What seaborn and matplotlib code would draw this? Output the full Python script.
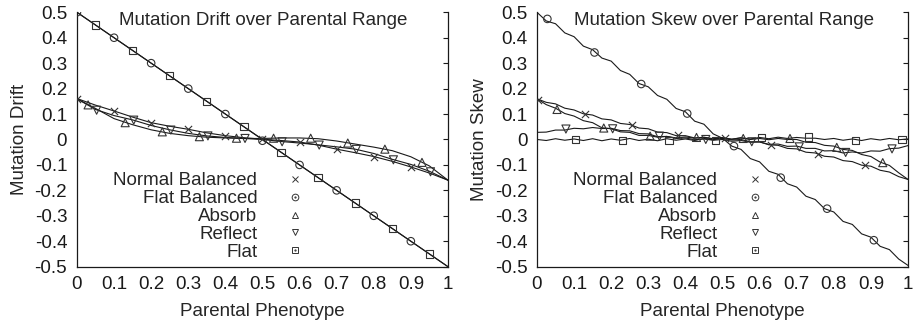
import numpy as np
import matplotlib
matplotlib.use("Agg")
import matplotlib.pyplot as plt
import seaborn as sns
from matplotlib.lines import Line2D
from matplotlib.legend_handler import HandlerTuple

sns.set_style("white")
plt.rcParams['font.family'] = ['Liberation Sans', 'DejaVu Sans']
plt.rcParams['axes.unicode_minus'] = False

# ---- data -------------------------------------------------------------
series_names = ["Normal Balanced", "Flat Balanced", "Absorb", "Reflect", "Flat"]

xticks = [0, 0.1, 0.2, 0.3, 0.4, 0.5, 0.6, 0.7, 0.8, 0.9, 1.0]
xtick_labels = ["0", "0.1", "0.2", "0.3", "0.4", "0.5", "0.6", "0.7", "0.8", "0.9", "1"]
yticks = [-0.5, -0.4, -0.3, -0.2, -0.1, 0, 0.1, 0.2, 0.3, 0.4, 0.5]
ytick_labels = ["-0.5", "-0.4", "-0.3", "-0.2", "-0.1", "0", "0.1", "0.2", "0.3", "0.4", "0.5"]

# left panel: drift (smooth curves, grid step 0.05)
drift_x = [0, 0.05, 0.1, 0.15, 0.2, 0.25, 0.3, 0.35, 0.4, 0.45, 0.5,
           0.55, 0.6, 0.65, 0.7, 0.75, 0.8, 0.85, 0.9, 0.95, 1.0]
drift_normal = [0.161, 0.135, 0.112, 0.088, 0.066, 0.052, 0.040, 0.026, 0.015, 0.007, 0.001,
                -0.004, -0.010, -0.022, -0.038, -0.052, -0.067, -0.086, -0.108, -0.132, -0.160]
drift_flatbal = [0.5, 0.45, 0.4, 0.35, 0.3, 0.25, 0.2, 0.15, 0.1, 0.05, 0.0,
                 -0.05, -0.1, -0.15, -0.2, -0.25, -0.3, -0.35, -0.4, -0.45, -0.5]
drift_absorb = [0.160, 0.122, 0.082, 0.058, 0.038, 0.024, 0.015, 0.009, 0.006, 0.004, 0.004,
                0.006, 0.006, 0.003, -0.006, -0.018, -0.030, -0.044, -0.068, -0.104, -0.160]
drift_reflect = [0.160, 0.118, 0.094, 0.077, 0.055, 0.038, 0.024, 0.014, 0.008, 0.004, 0.0,
                 -0.008, -0.014, -0.021, -0.029, -0.038, -0.055, -0.078, -0.098, -0.125, -0.160]
drift_flat = [0.5, 0.45, 0.4, 0.35, 0.3, 0.25, 0.2, 0.15, 0.1, 0.05, 0.0,
              -0.05, -0.1, -0.15, -0.2, -0.25, -0.3, -0.35, -0.4, -0.45, -0.5]

# left panel point symbols
dm_normal_x = [0, 0.1, 0.2, 0.3, 0.4, 0.5, 0.6, 0.7, 0.8, 0.9]
dm_normal_y = [0.161, 0.112, 0.066, 0.040, 0.015, 0.001, -0.010, -0.038, -0.067, -0.108]
dm_flatbal_x = [0, 0.1, 0.2, 0.3, 0.4, 0.5, 0.6, 0.7, 0.8, 0.9]
dm_flatbal_y = [0.5, 0.4, 0.3, 0.2, 0.1, -0.005, -0.1, -0.2, -0.3, -0.4]
dm_absorb_x = [0.03, 0.13, 0.23, 0.33, 0.43, 0.53, 0.63, 0.73, 0.83, 0.93]
dm_absorb_y = [0.136, 0.066, 0.030, 0.011, 0.005, 0.005, 0.005, -0.014, -0.038, -0.090]
dm_reflect_x = [0.053, 0.153, 0.253, 0.353, 0.453, 0.553, 0.653, 0.753, 0.853, 0.953]
dm_reflect_y = [0.115, 0.076, 0.037, 0.014, 0.004, -0.009, -0.022, -0.039, -0.080, -0.127]
dm_flat_x = [0.05, 0.15, 0.25, 0.35, 0.45, 0.55, 0.65, 0.75, 0.85, 0.95]
dm_flat_y = [0.45, 0.35, 0.25, 0.15, 0.05, -0.05, -0.15, -0.25, -0.35, -0.45]

# right panel: skew (noisy curves, grid step 0.025)
skew_x = [0, 0.025, 0.05, 0.075, 0.1, 0.125, 0.15, 0.175, 0.2, 0.225, 0.25, 0.275, 0.3, 0.325,
          0.35, 0.375, 0.4, 0.425, 0.45, 0.475, 0.5, 0.525, 0.55, 0.575, 0.6, 0.625, 0.65,
          0.675, 0.7, 0.725, 0.75, 0.775, 0.8, 0.825, 0.85, 0.875, 0.9, 0.925, 0.95, 0.975, 1.0]
skew_normal = [0.160, 0.146, 0.140, 0.123, 0.116, 0.101, 0.096, 0.081, 0.077, 0.063, 0.059,
               0.045, 0.042, 0.029, 0.027, 0.015, 0.015, 0.006, 0.008, 0.001, 0.005, -0.002,
               0.000, -0.009, -0.009, -0.021, -0.023, -0.035, -0.037, -0.050, -0.053, -0.066,
               -0.069, -0.083, -0.087, -0.101, -0.105, -0.121, -0.128, -0.146, -0.157]
skew_flatbal = [0.500, 0.466, 0.455, 0.419, 0.404, 0.367, 0.353, 0.320, 0.308, 0.271, 0.256,
                0.220, 0.207, 0.173, 0.158, 0.122, 0.109, 0.072, 0.060, 0.022, 0.005, -0.026,
                -0.039, -0.075, -0.088, -0.125, -0.137, -0.174, -0.187, -0.223, -0.236, -0.272,
                -0.285, -0.322, -0.334, -0.371, -0.384, -0.420, -0.433, -0.470, -0.495]
skew_absorb = [0.160, 0.137, 0.123, 0.102, 0.092, 0.074, 0.066, 0.046, 0.042, 0.030, 0.028,
               0.016, 0.016, 0.009, 0.012, 0.006, 0.010, 0.005, 0.009, 0.003, 0.007, 0.001,
               0.006, 0.000, 0.004, -0.001, 0.004, 0.000, 0.000, -0.011, -0.012, -0.023,
               -0.026, -0.039, -0.043, -0.059, -0.067, -0.089, -0.102, -0.131, -0.157]
skew_reflect = [0.028, 0.029, 0.037, 0.037, 0.044, 0.042, 0.047, 0.043, 0.044, 0.035, 0.034,
                0.023, 0.022, 0.011, 0.012, 0.004, 0.006, -0.001, 0.002, -0.003, 0.000, -0.007,
                -0.004, -0.011, -0.010, -0.019, -0.018, -0.027, -0.026, -0.035, -0.035, -0.045,
                -0.044, -0.053, -0.049, -0.053, -0.045, -0.046, -0.036, -0.034, -0.024]
skew_flat = [0.000, -0.004, 0.003, -0.003, 0.002, -0.004, 0.003, -0.005, 0.002, -0.003, 0.004,
             -0.004, 0.001, -0.005, 0.003, -0.003, 0.002, -0.004, 0.004, -0.001, 0.006, 0.001,
             0.007, 0.002, 0.008, 0.003, 0.009, 0.004, 0.008, 0.005, 0.005, 0.000, 0.004,
             -0.003, 0.002, -0.004, 0.003, -0.002, 0.004, -0.001, 0.002]

# right panel point symbols
sm_normal_x = [0.004, 0.13, 0.255, 0.38, 0.506, 0.632, 0.757, 0.883]
sm_normal_y = [0.157, 0.102, 0.055, 0.017, 0.004, -0.020, -0.056, -0.100]
sm_flatbal_x = [0.028, 0.155, 0.281, 0.405, 0.531, 0.657, 0.782, 0.908]
sm_flatbal_y = [0.474, 0.342, 0.218, 0.102, -0.026, -0.150, -0.272, -0.396]
sm_absorb_x = [0.054, 0.18, 0.305, 0.43, 0.556, 0.682, 0.808, 0.932]
sm_absorb_y = [0.118, 0.045, 0.013, 0.008, 0.004, 0.004, -0.031, -0.091]
sm_reflect_x = [0.078, 0.204, 0.33, 0.455, 0.579, 0.707, 0.832, 0.957]
sm_reflect_y = [0.041, 0.042, 0.013, 0.000, -0.009, -0.029, -0.051, -0.037]
sm_flat_x = [0.104, 0.23, 0.356, 0.482, 0.606, 0.731, 0.858, 0.984]
sm_flat_y = [0.000, -0.003, -0.003, -0.003, 0.008, 0.010, -0.005, 0.001]

# ---- styling -----------------------------------------------------------
INK = "#1a1a1a"
MK = "#333333"
FS = 13.5
markers = {"Normal Balanced": ("x", 5.2), "Flat Balanced": ("o", 5.4),
           "Absorb": ("^", 5.8), "Reflect": ("v", 5.8), "Flat": ("s", 5.2)}

panels = [
    dict(title="Mutation Drift over Parental Range", ylabel="Mutation Drift",
         x=drift_x,
         lines=[drift_normal, drift_flatbal, drift_absorb, drift_reflect, drift_flat],
         points=[(dm_normal_x, dm_normal_y), (dm_flatbal_x, dm_flatbal_y),
                 (dm_absorb_x, dm_absorb_y), (dm_reflect_x, dm_reflect_y),
                 (dm_flat_x, dm_flat_y)]),
    dict(title="Mutation Skew over Parental Range", ylabel="Mutation Skew",
         x=skew_x,
         lines=[skew_normal, skew_flatbal, skew_absorb, skew_reflect, skew_flat],
         points=[(sm_normal_x, sm_normal_y), (sm_flatbal_x, sm_flatbal_y),
                 (sm_absorb_x, sm_absorb_y), (sm_reflect_x, sm_reflect_y),
                 (sm_flat_x, sm_flat_y)]),
]

fig, axes = plt.subplots(1, 2, figsize=(9.14, 3.26), dpi=100)
fig.subplots_adjust(left=0.0842, right=0.9934, bottom=0.182, top=0.9623, wspace=0.24)

for ax, p in zip(axes, panels):
    for name, yv, (mx, my) in zip(series_names, p["lines"], p["points"]):
        sns.lineplot(x=p["x"], y=yv, ax=ax, color=INK, lw=0.8,
                     estimator=None, sort=False, errorbar=None)
        m, ms = markers[name]
        if m == "x":
            sns.scatterplot(x=mx, y=my, ax=ax, marker=m, s=ms ** 2,
                            color=MK, linewidth=0.8, zorder=3)
        else:
            sns.scatterplot(x=mx, y=my, ax=ax, marker=m, s=ms ** 2,
                            facecolor="none", edgecolor=MK, linewidth=0.8, zorder=3)

    ax.set_xlim(0, 1)
    ax.set_ylim(-0.5, 0.5)
    ax.set_xticks(xticks)
    ax.set_xticklabels(xtick_labels)
    ax.set_yticks(yticks)
    ax.set_yticklabels(ytick_labels)
    ax.tick_params(axis="both", direction="in", length=3.5, width=0.8,
                   labelsize=FS, pad=7, colors=INK)
    ax.tick_params(axis="y", right=True)
    ax.tick_params(axis="x", top=False)
    ax.spines["top"].set_visible(False)
    for s in ["left", "right", "bottom"]:
        ax.spines[s].set_color(INK)
        ax.spines[s].set_linewidth(0.9)

    ax.set_xlabel("Parental Phenotype", fontsize=FS)
    ax.set_ylabel(p["ylabel"], fontsize=FS)
    ax.xaxis.set_label_coords(0.5, -0.177)
    ax.xaxis.label.set_va("center")
    ax.yaxis.set_label_coords(-0.154, 0.5)
    ax.yaxis.label.set_va("center")

    ax.text(0.503, 0.966, p["title"], transform=ax.transAxes,
            ha="center", va="center", fontsize=FS)

    # key: text right-aligned, symbol after it
    dot = Line2D([], [], ls="", marker=".", ms=1.2, color=MK)
    kw = dict(ls="", mfc="none", mec=MK, mew=0.7)
    handles = [Line2D([], [], ls="", marker="x", ms=4.8, color=MK, mew=0.7),
               (Line2D([], [], marker="o", ms=4.8, **kw), dot),
               Line2D([], [], marker="^", ms=4.8, **kw),
               Line2D([], [], marker="v", ms=4.8, **kw),
               (Line2D([], [], marker="s", ms=4.5, **kw), dot)]
    ax.legend(handles, series_names, loc="center right",
              bbox_to_anchor=(0.612, 0.197), frameon=False, markerfirst=False,
              fontsize=FS, handlelength=1.0, handletextpad=1.5,
              labelspacing=0.04, borderpad=0, borderaxespad=0,
              handler_map={tuple: HandlerTuple(ndivide=1, pad=0)})

fig.savefig("out.png", dpi=100)
